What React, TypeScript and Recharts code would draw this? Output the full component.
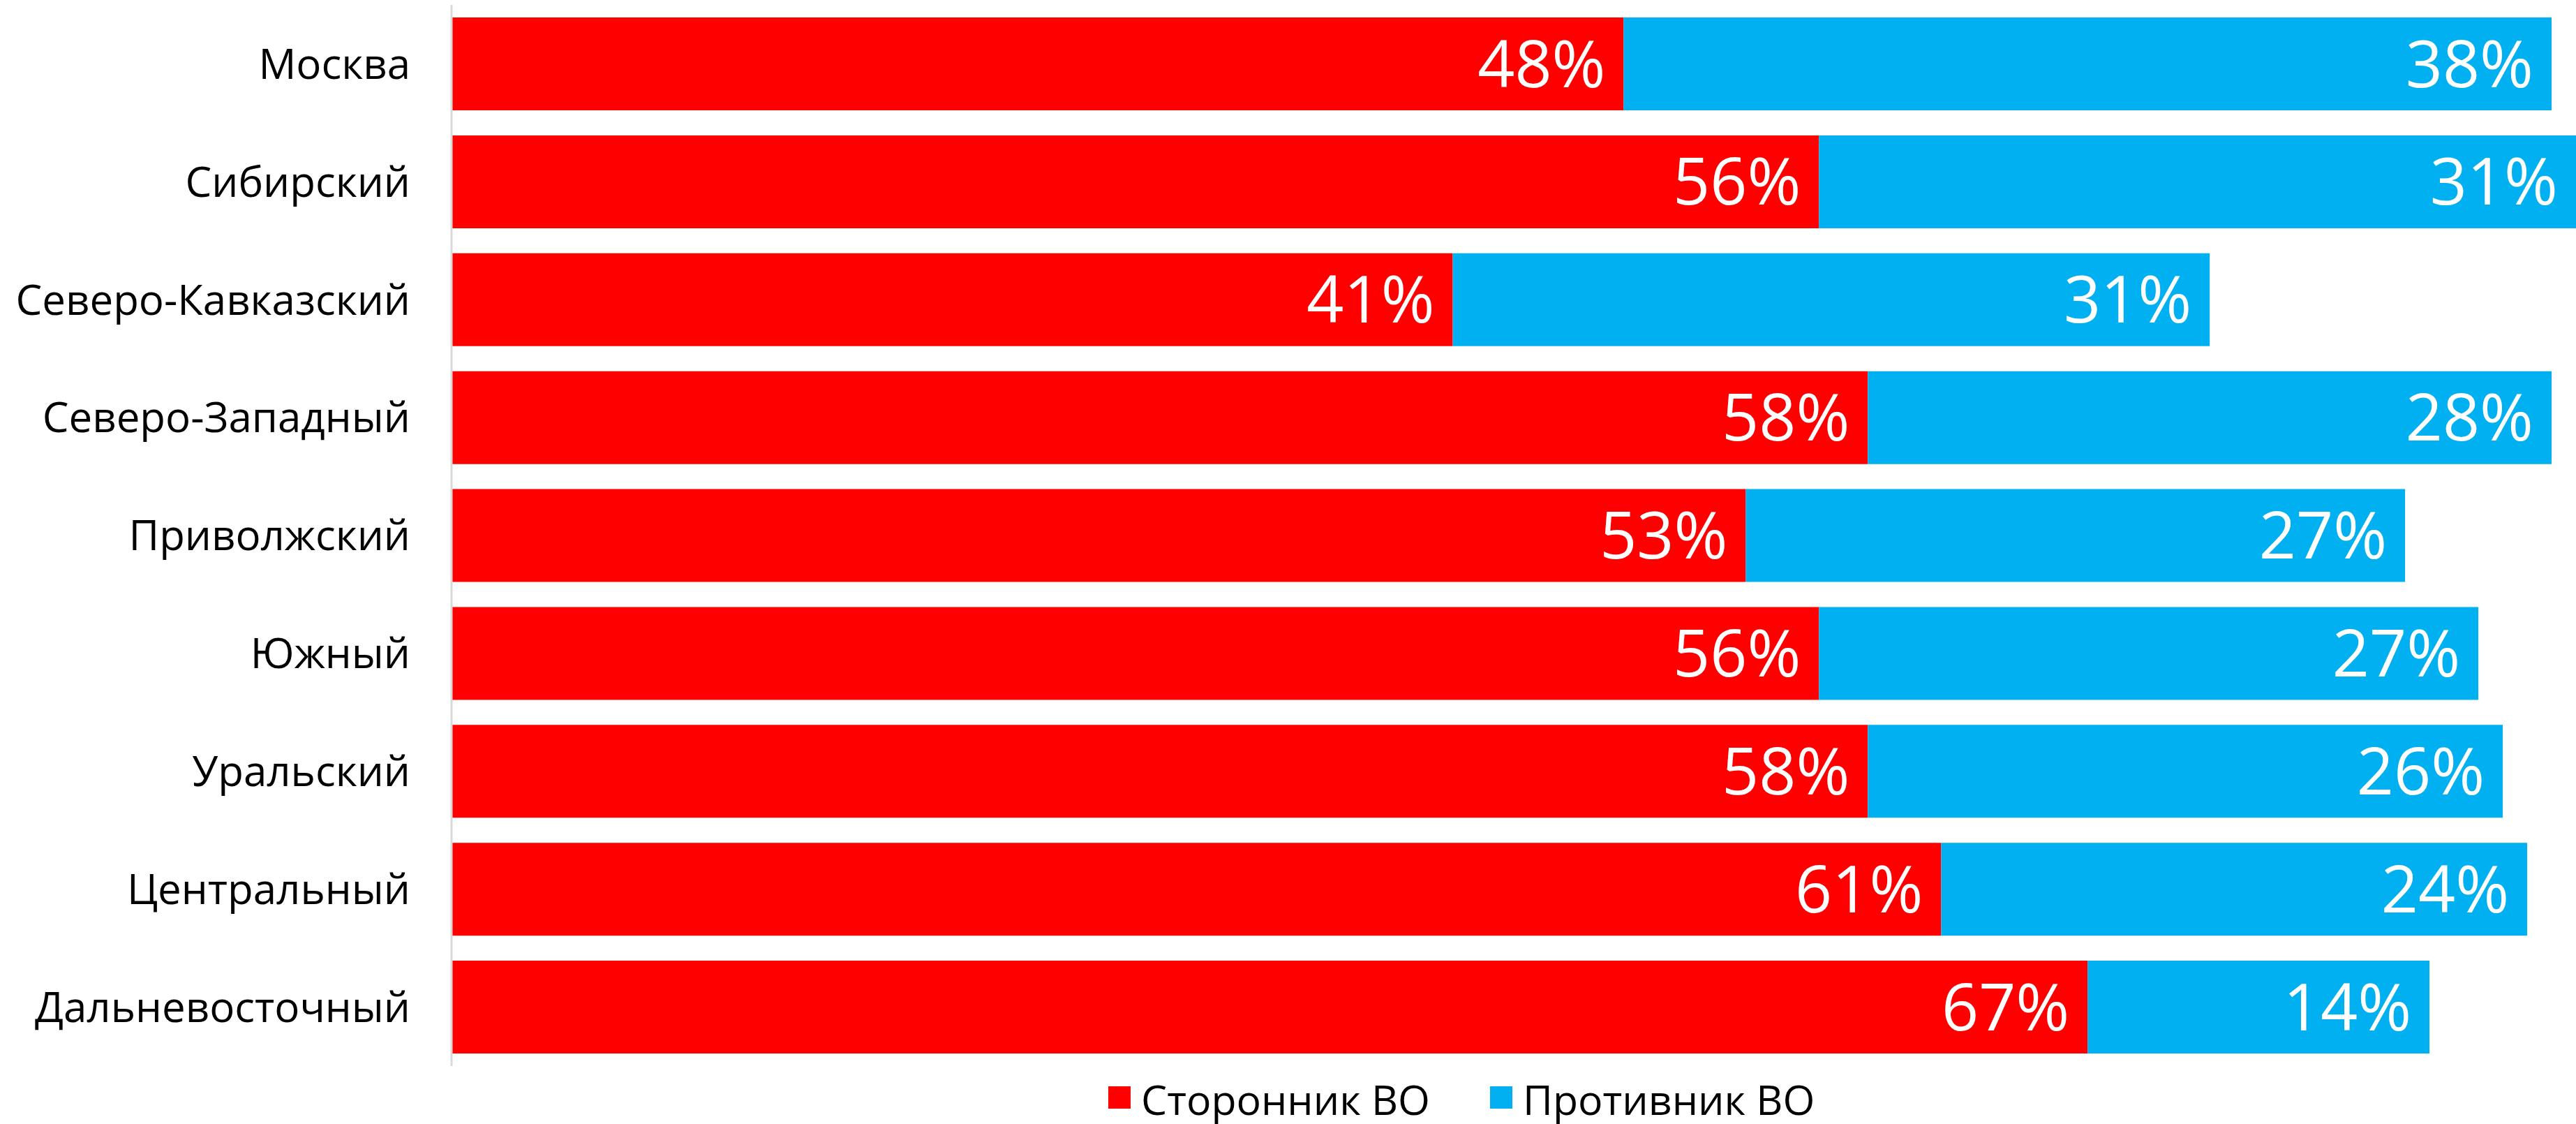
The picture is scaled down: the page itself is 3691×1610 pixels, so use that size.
import React from 'react';
import { BarChart, Bar, XAxis, YAxis, LabelList, Legend } from 'recharts';

const regions = ['Москва', 'Сибирский', 'Северо-Кавказский', 'Северо-Западный', 'Приволжский', 'Южный', 'Уральский', 'Центральный', 'Дальневосточный'];
const supporters = [48, 56, 41, 58, 53, 56, 58, 61, 67];
const opponents = [38, 31, 31, 28, 27, 27, 26, 24, 14];
const seriesNames = ['Сторонник ВО', 'Противник ВО'];
const colors = ['#FF0000', '#00B0F0'];

const data = regions.map((r, i) => ({ region: r, sup: supporters[i], opp: opponents[i] }));

const FONT = '"Open Sans", "Noto Sans", sans-serif';

const LegendContent = (props: any) => {
  const items = [...(props.payload || [])].sort(
    (a: any, b: any) => seriesNames.indexOf(a.value) - seriesNames.indexOf(b.value)
  );
  return (
    <div style={{ display: 'flex', alignItems: 'flex-start', fontFamily: FONT }}>
      {items.map((p: any, i: number) => (
        <div key={i} style={{ display: 'flex', alignItems: 'flex-start', marginRight: i === 0 ? 86 : 0 }}>
          <div style={{ width: 32, height: 32, background: p.color, marginTop: 11, marginRight: 15 }} />
          <span style={{ fontSize: 59, lineHeight: '59px', color: '#000', whiteSpace: 'nowrap' }}>{p.value}</span>
        </div>
      ))}
    </div>
  );
};

export default function App() {
  return (
    <div style={{ position: 'absolute', left: 0, top: 0, width: 3691, height: 1610, background: '#fff' }}>
      <BarChart
        width={3691}
        height={1610}
        data={data}
        layout="vertical"
        margin={{ top: 7, right: 0, bottom: 83, left: 0 }}
      >
        <XAxis type="number" hide domain={[0, 87]} />
        <YAxis
          type="category"
          dataKey="region"
          width={647}
          tickLine={false}
          tickSize={0}
          tickMargin={59}
          axisLine={{ stroke: '#D9D9D9', strokeWidth: 3 }}
          tick={{ fontSize: 60, fill: '#000', fontFamily: FONT }}
          interval={0}
        />
        <Legend
          layout="horizontal"
          verticalAlign="middle"
          align="center"
          content={<LegendContent />}
          wrapperStyle={{ top: 1545, left: 1588, width: 1200 }}
        />
        <Bar dataKey="sup" name={seriesNames[0]} stackId="a" fill={colors[0]} barSize={133} isAnimationActive={false}>
          <LabelList dataKey="sup" position="insideRight" offset={26} fill="#fff" fontSize={93} fontFamily={FONT} formatter={(v: any) => `${v}%`} />
        </Bar>
        <Bar dataKey="opp" name={seriesNames[1]} stackId="a" fill={colors[1]} barSize={133} isAnimationActive={false}>
          <LabelList dataKey="opp" position="insideRight" offset={26} fill="#fff" fontSize={93} fontFamily={FONT} formatter={(v: any) => `${v}%`} />
        </Bar>
      </BarChart>
    </div>
  );
}
